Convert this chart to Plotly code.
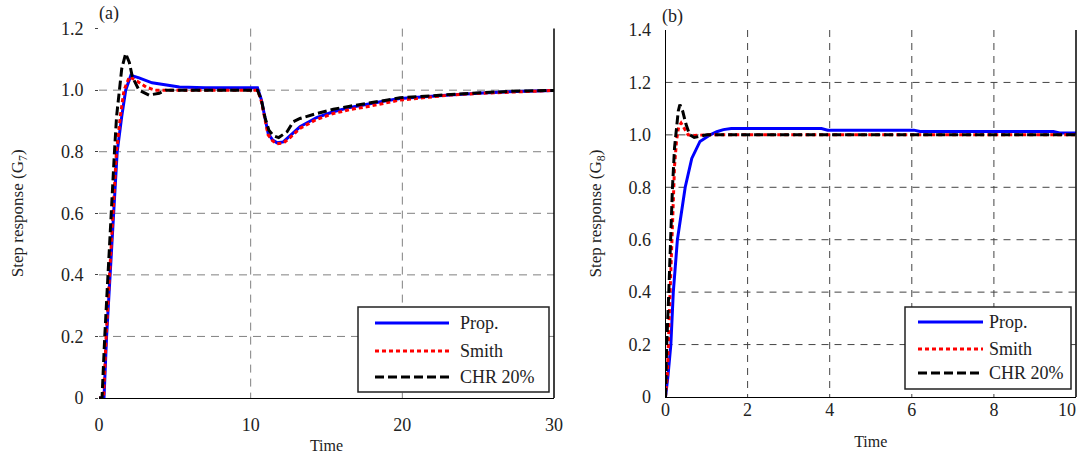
import plotly.graph_objects as go

W, H = 1078, 459
FONT = "Liberation Serif"

# ---------------- (a) Step response G7 ----------------
t_a_prop = [0, 0.33, 0.5, 0.73, 0.95, 1.2, 1.5, 1.76, 2.1, 2.64, 3.5, 4.4, 5.3, 7.0, 9.0, 10.45,
            10.7, 10.95, 11.15, 11.45, 11.75, 12.15, 12.6, 13.25, 14.35, 15.45, 16.55, 17.65,
            18.75, 19.85, 20.95, 23.1, 25.3, 27.5, 30.0]
y_a_prop = [0, 0, 0.2, 0.4, 0.6, 0.8, 0.915, 1.0, 1.048, 1.04, 1.024, 1.016, 1.01, 1.008, 1.008, 1.008,
            0.97, 0.91, 0.86, 0.838, 0.829, 0.832, 0.852, 0.881, 0.911, 0.930, 0.944, 0.955,
            0.964, 0.973, 0.976, 0.984, 0.991, 0.996, 0.999]

t_a_smith = [0, 0.3, 0.47, 0.7, 0.9, 1.15, 1.42, 1.65, 2.0, 2.5, 3.1, 3.7, 6.0, 10.45,
             10.7, 10.95, 11.15, 11.45, 11.75, 12.15, 12.6, 13.25, 14.35, 15.45, 16.55, 17.65,
             18.75, 19.85, 20.95, 23.1, 25.3, 27.5, 30.0]
y_a_smith = [0, 0, 0.2, 0.4, 0.6, 0.8, 0.92, 1.0, 1.043, 1.03, 1.01, 1.0, 1.0, 1.0,
             0.965, 0.905, 0.855, 0.835, 0.826, 0.828, 0.846, 0.876, 0.905, 0.924, 0.937, 0.946,
             0.957, 0.968, 0.973, 0.984, 0.99, 0.995, 0.999]

t_a_chr = [0, 0.2, 0.38, 0.58, 0.79, 1.02, 1.16, 1.35, 1.5, 1.76, 2.0, 2.2, 2.64, 3.3, 3.97, 4.4, 6.0, 10.45,
           10.7, 10.95, 11.2, 11.5, 11.85, 12.4, 12.8, 13.25, 14.35, 15.45, 16.55, 17.65,
           18.75, 19.85, 21.0, 23.1, 25.3, 27.5, 30.0]
y_a_chr = [0, 0, 0.2, 0.4, 0.6, 0.8, 0.915, 1.0, 1.07, 1.119, 1.09, 1.043, 1.0, 0.984, 0.99, 1.0, 1.0, 1.0,
           0.97, 0.91, 0.87, 0.852, 0.846, 0.865, 0.897, 0.908, 0.924, 0.938, 0.948, 0.957,
           0.968, 0.975, 0.979, 0.986, 0.992, 0.997, 0.999]

# ---------------- (b) Step response G8 ----------------
t_b_prop = [0, 0.06, 0.13, 0.19, 0.29, 0.44, 0.48, 0.64, 0.84, 1.09, 1.25, 1.41, 1.6, 3.8, 3.95,
            6.05, 6.2, 9.45, 9.6, 10.0]
y_b_prop = [0, 0.08, 0.2, 0.4, 0.6, 0.765, 0.8, 0.91, 0.975, 1.0, 1.012, 1.02, 1.024, 1.024, 1.018,
            1.018, 1.013, 1.013, 1.007, 1.007]

t_b_smith = [0, 0.05, 0.09, 0.13, 0.17, 0.22, 0.27, 0.32, 0.38, 0.45, 0.55, 0.7, 1.0, 10.0]
y_b_smith = [0, 0.1, 0.3, 0.5, 0.7, 0.88, 0.98, 1.03, 1.045, 1.025, 1.0, 0.998, 1.0, 1.0]

t_b_chr = [0, 0.03, 0.08, 0.12, 0.17, 0.22, 0.27, 0.31, 0.35, 0.42, 0.5, 0.59, 0.7, 0.85, 1.0, 10.0]
y_b_chr = [0, 0.2, 0.4, 0.6, 0.8, 0.95, 1.04, 1.09, 1.115, 1.09, 1.04, 1.0, 0.99, 0.995, 1.0, 1.0]

series_names = ["Prop.", "Smith", "CHR 20%"]
series_colors = ["#0000ff", "#ff0000", "#000000"]
series_dash = ["solid", "4px,3px", "9px,4px"]

xticks_a = [0, 10, 20, 30]
xticklabels_a = ["0", "10", "20", "30"]
yticks_a = [0, 0.2, 0.4, 0.6, 0.8, 1.0, 1.2]
yticklabels_a = ["0", "0.2", "0.4", "0.6", "0.8", "1.0", "1.2"]
xgrid_a = [10, 20]
ygrid_a = [0.2, 0.4, 0.6, 0.8, 1.0]

xticks_b = [0, 2, 4, 6, 8, 10]
xticklabels_b = ["0", "2", "4", "6", "8", "10\u2007\u2007"]
yticks_b = [0, 0.2, 0.4, 0.6, 0.8, 1.0, 1.2, 1.4]
yticklabels_b = ["0", "0.2", "0.4", "0.6", "0.8", "1.0", "1.2", "1.4"]
xgrid_b = [2, 4, 6, 8]
ygrid_b = [0.2, 0.4, 0.6, 0.8, 1.0, 1.2]


def fx(p):
    return p / W


def fy(p):
    return 1 - p / H


fig = go.Figure()

panel_a = [(t_a_prop, y_a_prop), (t_a_smith, y_a_smith), (t_a_chr, y_a_chr)]
panel_b = [(t_b_prop, y_b_prop), (t_b_smith, y_b_smith), (t_b_chr, y_b_chr)]

for (tx, ty), name, col, dash in zip(panel_a, series_names, series_colors, series_dash):
    fig.add_trace(go.Scatter(x=tx, y=ty, mode="lines", name=name, xaxis="x", yaxis="y",
                             line=dict(color=col, width=3, dash=dash), showlegend=False))
for (tx, ty), name, col, dash in zip(panel_b, series_names, series_colors, series_dash):
    fig.add_trace(go.Scatter(x=tx, y=ty, mode="lines", name=name, xaxis="x2", yaxis="y2",
                             line=dict(color=col, width=3, dash=dash), showlegend=False))

TICKFONT = dict(family=FONT, size=18, color="#222")
common_x = dict(showline=True, linecolor="black", linewidth=1, zeroline=False, ticks="",
                showgrid=False, tickfont=TICKFONT, automargin=False)
common_y = dict(zeroline=False, showgrid=False, tickfont=TICKFONT, automargin=False)

fig.update_layout(
    template="none",
    width=W, height=H, margin=dict(l=0, r=0, t=0, b=0, pad=0), autosize=False,
    paper_bgcolor="white", plot_bgcolor="white", showlegend=False,
    font=dict(family=FONT, size=18, color="black"),
    xaxis=dict(domain=[fx(99), fx(554)], range=[0, 30], tickvals=xticks_a, ticktext=xticklabels_a, anchor="y",
               ticklabelstandoff=10,
               title=dict(text="Time", font=dict(family=FONT, size=16, color="#222"), standoff=6),
               **common_x),
    yaxis=dict(domain=[fy(398), fy(28.6)], range=[0, 1.2], tickvals=yticks_a, ticktext=yticklabels_a,
               anchor="x", showline=False, ticks="outside", ticklen=3, tickcolor="#444", ticklabelstandoff=8,
               title=dict(text="Step response (G<sub>7</sub>)", font=dict(family=FONT, size=17, color="#222"),
                          standoff=32),
               **common_y),
    xaxis2=dict(domain=[fx(665.5), fx(1076)], range=[0, 10], tickvals=xticks_b, ticktext=xticklabels_b,
                anchor="y2", ticklabelstandoff=-4, ticklabeloverflow="allow",
                title=dict(text="Time", font=dict(family=FONT, size=16, color="#222"), standoff=17),
                **common_x),
    yaxis2=dict(domain=[fy(397), fy(30)], range=[0, 1.4], tickvals=yticks_b, ticktext=yticklabels_b,
                anchor="x2", showline=True, linecolor="black", linewidth=1, ticks="", ticklabelstandoff=10,
                title=dict(text="Step response (G<sub>8</sub>)", font=dict(family=FONT, size=17, color="#222"),
                           standoff=22),
                **common_y),
)

shapes = []
# dashed grid lines, placed in data coordinates
grid_specs = [
    ("x", "y", xgrid_a, ygrid_a, "#808080", "8px,6px"),
    ("x2", "y2", xgrid_b, ygrid_b, "#444444", "7px,6px"),
]
for xa, ya, gx, gy, gcol, gdash in grid_specs:
    for v in gx:
        shapes.append(dict(type="line", xref=xa, yref=ya + " domain", x0=v, x1=v, y0=1, y1=0,
                           line=dict(color=gcol, width=1, dash=gdash), layer="below"))
    for v in gy:
        shapes.append(dict(type="line", xref=xa + " domain", yref=ya, x0=0, x1=1, y0=v, y1=v,
                           line=dict(color=gcol, width=1, dash=gdash), layer="below"))

# right-hand frame lines of both panels
shapes.append(dict(type="line", xref="x domain", yref="y domain", x0=1, x1=1, y0=0, y1=1,
                   line=dict(color="black", width=1.5)))
shapes.append(dict(type="line", xref="x2 domain", yref="y2 domain", x0=1, x1=1, y0=0, y1=1,
                   line=dict(color="black", width=1.5)))

annotations = [
    dict(text="(a)", x=fx(109), y=fy(14), xref="paper", yref="paper", showarrow=False,
         font=dict(family=FONT, size=18, color="#222"), xanchor="center", yanchor="middle"),
    dict(text="(b)", x=fx(673), y=fy(17), xref="paper", yref="paper", showarrow=False,
         font=dict(family=FONT, size=18, color="#222"), xanchor="center", yanchor="middle"),
]

# legend boxes (pixel layout)
legend_boxes = [
    dict(box=(358, 307, 549, 392), line=(375, 449), text_x=458, rows=(323, 351, 377)),
    dict(box=(905, 307, 1071, 389), line=(918, 983), text_x=987, rows=(322, 349, 373)),
]
for lb in legend_boxes:
    x0, y0, x1, y1 = lb["box"]
    shapes.append(dict(type="rect", xref="paper", yref="paper", x0=fx(x0), x1=fx(x1), y0=fy(y1), y1=fy(y0),
                       line=dict(color="#222", width=1.5), fillcolor="white", layer="above"))
    for name, col, dash, ry in zip(series_names, series_colors, series_dash, lb["rows"]):
        shapes.append(dict(type="line", xref="paper", yref="paper", x0=fx(lb["line"][0]), x1=fx(lb["line"][1]),
                           y0=fy(ry), y1=fy(ry), line=dict(color=col, width=3, dash=dash), layer="above"))
        annotations.append(dict(text=name, x=fx(lb["text_x"]), y=fy(ry), xref="paper", yref="paper",
                                showarrow=False, xanchor="left", yanchor="middle",
                                font=dict(family=FONT, size=18, color="#222")))

fig.update_layout(shapes=shapes, annotations=annotations)
fig.write_html("out.html", config={"displayModeBar": False},
               post_script="document.body.style.margin='0';document.body.style.overflow='hidden';")
